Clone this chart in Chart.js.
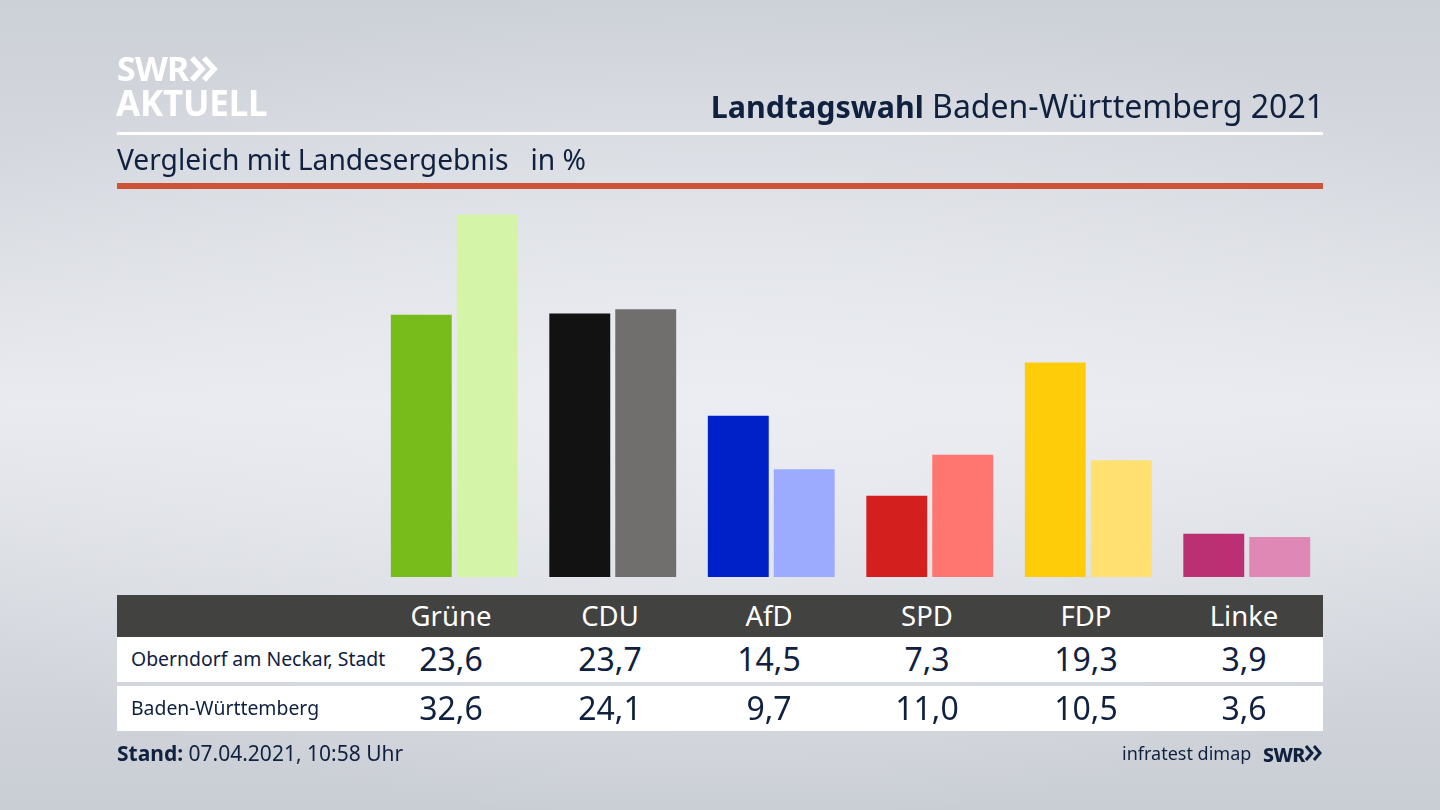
<!DOCTYPE html>
<html lang="de">
<head>
<meta charset="utf-8">
<title>Landtagswahl Baden-Württemberg 2021</title>
<script src="https://cdn.jsdelivr.net/npm/chart.js@4/dist/chart.umd.min.js"></script>
<style>
  html, body { margin: 0; width: 1440px; height: 810px; overflow: hidden; }
  body {
    position: relative;
    font-family: 'Noto Sans', sans-serif;
    color: #10213f;
    background:
      radial-gradient(ellipse 900px 420px at 50% 50%, rgba(236,238,243,0.75), rgba(236,238,243,0) 100%),
      linear-gradient(180deg, #ccd0d7 0%, #d6d9df 22%, #e8eaef 50%, #d4d7dd 80%, #c9cdd4 100%);
  }
  canvas { position: absolute; left: 0; top: 0; }
  .abs { position: absolute; white-space: nowrap; }
  .logo { color: #fff; font-weight: 700; line-height: 1; }
  .rule { position: absolute; left: 117px; width: 1206px; }
  .row { position: absolute; left: 117px; width: 1206px; }
  .cell { position: absolute; top: 0; width: 158px; margin-left: -79px; text-align: center; }
</style>
</head>
<body>
<canvas id="barChart" width="1440" height="810"></canvas>

<div class="abs logo" style="left:117px;top:51px;font-size:34px;letter-spacing:-0.8px;">SWR</div>
<svg class="abs" style="left:189px;top:56px;" width="32" height="26" viewBox="0 0 32 26">
  <polyline points="3,2 13,13 3,24" fill="none" stroke="#fff" stroke-width="5.5"/>
  <polyline points="15,2 25,13 15,24" fill="none" stroke="#fff" stroke-width="5.5"/>
</svg>
<div class="abs logo" style="left:116px;top:85px;font-size:35px;letter-spacing:-0.2px;">AKTUELL</div>

<div class="abs" style="right:116px;top:84px;font-size:32px;"><b style="font-size:30.4px;">Landtagswahl</b> Baden-Württemberg 2021</div>
<div class="rule" style="top:132px;height:3px;background:#fff;"></div>
<div class="abs" style="left:117px;top:140px;font-size:28.2px;">Vergleich mit Landesergebnis&nbsp;&nbsp; in %</div>
<div class="rule" style="top:183px;height:6px;background:#cc5238;"></div>

<div id="table"></div>

<div class="abs" style="left:117px;top:739px;font-size:21px;"><b>Stand:</b> 07.04.2021, 10:58 Uhr</div>
<div class="abs" style="left:1122px;top:741px;font-size:18px;">infratest dimap</div>
<div class="abs" style="left:1263px;top:741px;font-size:19.5px;font-weight:800;letter-spacing:-0.6px;">SWR</div>
<svg class="abs" style="left:1305px;top:745px;" width="18" height="16" viewBox="0 0 18 16">
  <polyline points="1,1 7,8 1,15" fill="none" stroke="#10213f" stroke-width="3"/>
  <polyline points="9,1 15,8 9,15" fill="none" stroke="#10213f" stroke-width="3"/>
</svg>

<script>
// ── Data ──────────────────────────────────────────────────────
const parties    = ['Grüne', 'CDU', 'AfD', 'SPD', 'FDP', 'Linke'];
const localName  = 'Oberndorf am Neckar, Stadt';
const stateName  = 'Baden-Württemberg';
const localVals  = [23.6, 23.7, 14.5, 7.3, 19.3, 3.9];
const stateVals  = [32.6, 24.1, 9.7, 11.0, 10.5, 3.6];
const localCols  = ['#78bc1b', '#121212', '#0021c8', '#d41f1f', '#ffcc0a', '#bb2f73'];
const stateCols  = ['#d4f5a8', '#706f6d', '#9dabff', '#ff7570', '#ffe070', '#df88b6'];

const fmt = (v) => v.toFixed(1).replace('.', ',');

// ── Bar Chart ─────────────────────────────────────────────────
new Chart(document.getElementById('barChart'), {
  type: 'bar',
  data: {
    labels: parties,
    datasets: [
      { label: localName, data: localVals, backgroundColor: localCols },
      { label: stateName, data: stateVals, backgroundColor: stateCols },
    ],
  },
  options: {
    responsive: false,
    animation:  false,
    devicePixelRatio: 1,
    categoryPercentage: 0.832,
    barPercentage:      0.924,
    layout: { padding: { left: 375, right: 114, top: 188, bottom: 233 } },
    plugins: { legend: { display: false }, tooltip: { enabled: false } },
    scales: {
      x: { display: false },
      y: { display: false, min: 0, max: 35 },
    },
  },
});

// ── Table ─────────────────────────────────────────────────────
const centers = [334, 493, 652, 810, 969, 1127]; // relative to the table's left edge
const buildRow = (top, height, bg, color, size, name, cells, shift) => {
  const row = document.createElement('div');
  row.className = 'row';
  row.style.cssText = `top:${top}px;height:${height}px;background:${bg};color:${color};line-height:${height - shift}px;`;
  if (name) {
    const lab = document.createElement('div');
    lab.className = 'abs';
    lab.style.cssText = 'left:14px;top:0;font-size:19.4px;';
    lab.textContent = name;
    row.appendChild(lab);
  }
  cells.forEach((txt, i) => {
    const cell = document.createElement('div');
    cell.className = 'cell';
    cell.style.left = centers[i] + 'px';
    cell.style.fontSize = size + 'px';
    cell.textContent = txt;
    row.appendChild(cell);
  });
  document.getElementById('table').appendChild(row);
};

buildRow(595, 42, '#424240', '#fff', 27.5, '', parties, 1);
buildRow(637, 45, '#fff', '#10213f', 32, localName, localVals.map(fmt), 1);
buildRow(686, 45, '#fff', '#10213f', 32, stateName, stateVals.map(fmt), 1);
</script>
</body>
</html>
